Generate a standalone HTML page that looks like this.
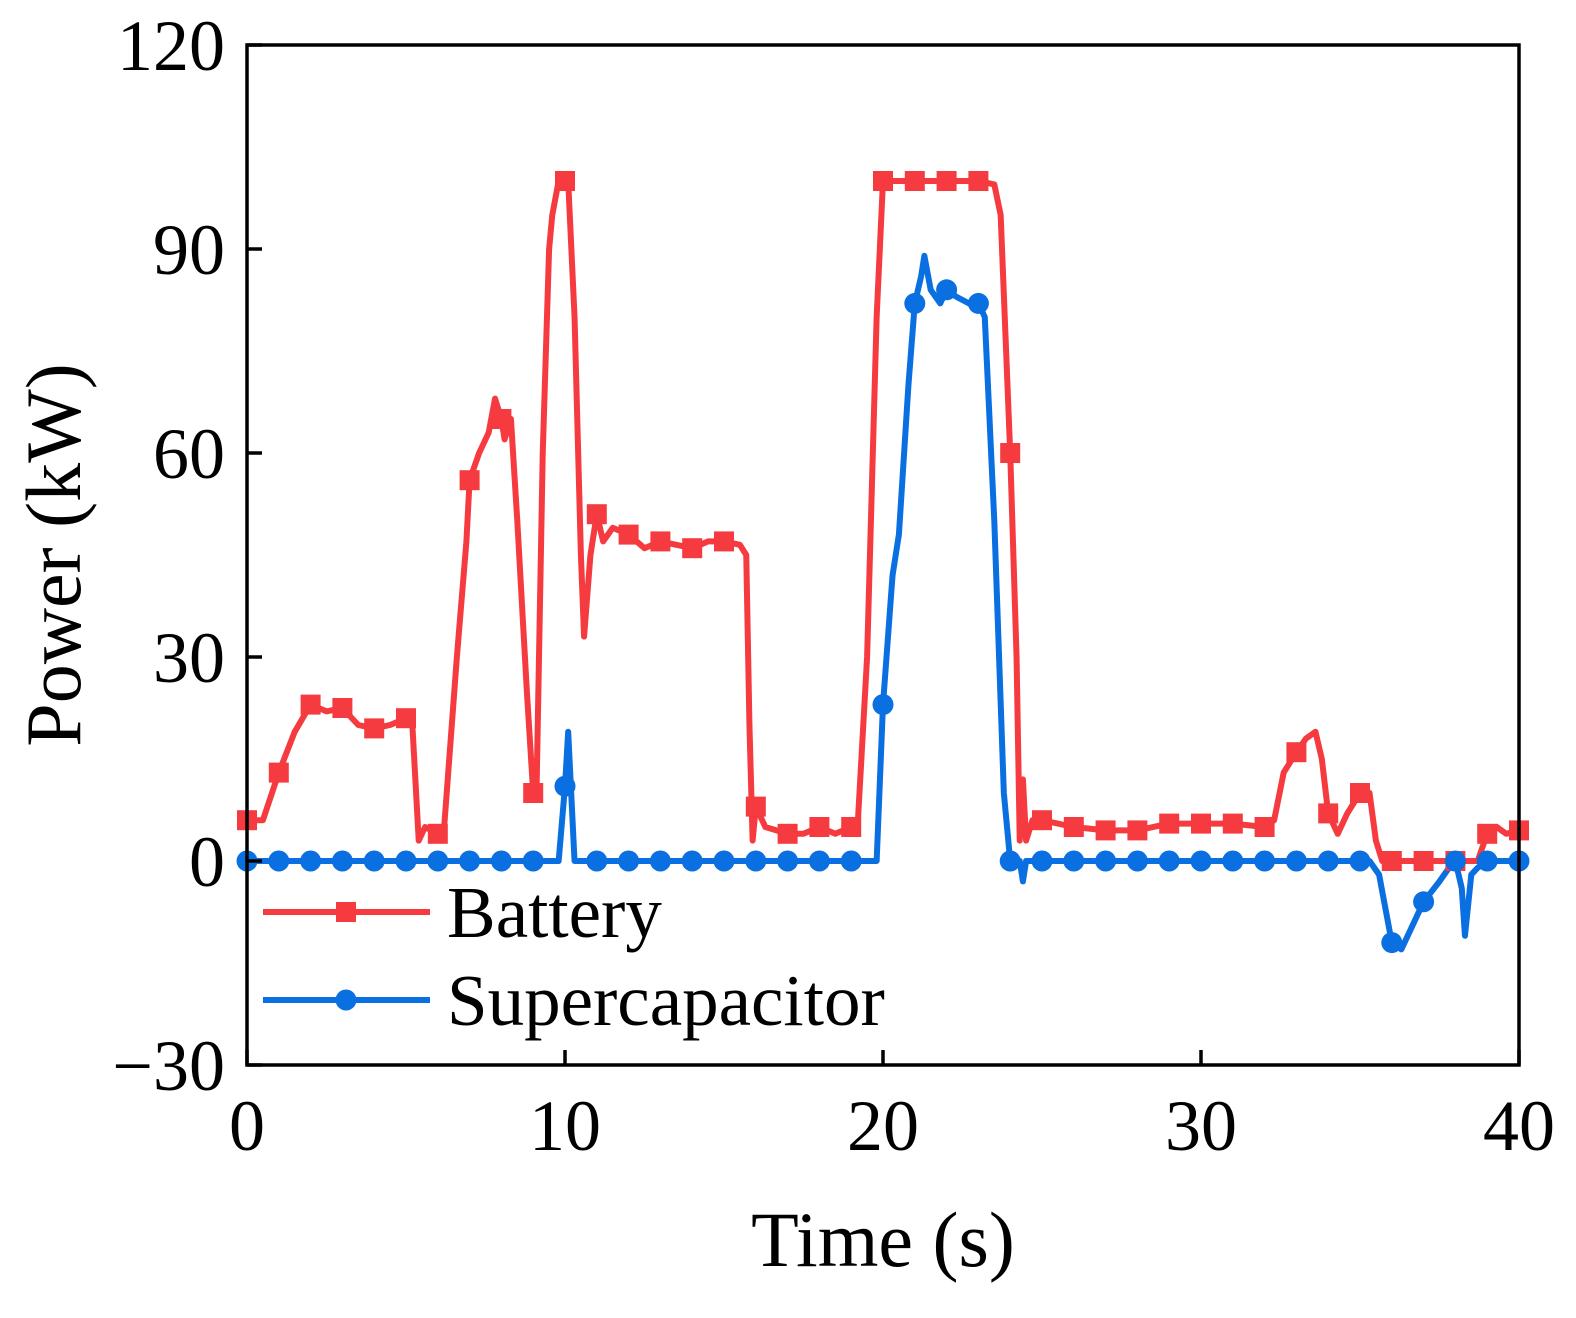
<!DOCTYPE html>
<html><head><meta charset="utf-8"><style>
html,body{margin:0;padding:0;background:#fff;}
svg{display:block;font-family:"Liberation Serif",serif;}
</style></head><body>
<svg id="chart" width="1576" height="1318" viewBox="0 0 1576 1318" xmlns="http://www.w3.org/2000/svg">
<g id="marks"></g>
<rect x="247" y="45" width="1272" height="1020" fill="none" stroke="#000" stroke-width="3.5"/>
<g id="axes"></g>
<text x="883" y="1266" font-size="78" text-anchor="middle">Time (s)</text>
<text transform="translate(80,555) rotate(-90)" font-size="78" text-anchor="middle">Power (kW)</text>
<g>
<line x1="263" y1="912" x2="430" y2="912" stroke="#f53b3f" stroke-width="6"/>
<rect x="336" y="902" width="20" height="20" fill="#f53b3f"/>
<text x="447" y="937" font-size="73">Battery</text>
<line x1="263" y1="1000" x2="430" y2="1000" stroke="#0a6fe0" stroke-width="6"/>
<circle cx="346" cy="1000" r="10.5" fill="#0a6fe0"/>
<text x="447" y="1025" font-size="73">Supercapacitor</text>
</g>
</svg>
<script>
const xTicks=[0,10,20,30,40];
const yTicks=[-30,0,30,60,90,120];
const yTickLabels=["\u221230","0","30","60","90","120"];
const batteryT=[0,0.5,1,1.5,2,2.5,3,3.5,4,4.5,5,5.2,5.4,5.6,6,6.2,6.6,6.9,7,7.3,7.6,7.8,8,8.1,8.3,8.5,8.8,9,9.1,9.3,9.5,9.6,9.8,10.1,10.3,10.5,10.6,10.8,11,11.2,11.5,12,12.5,13,13.5,14,14.5,15,15.5,15.7,15.8,15.9,16,16.3,17,17.5,18,18.5,19,19.2,19.5,19.8,20,20.5,21,22,23,23.5,23.7,24,24.2,24.3,24.4,24.5,24.7,25,26,27,28,29,30,31,32,32.3,32.6,33,33.3,33.6,33.8,34,34.3,34.6,35,35.3,35.5,35.7,36,37,38,38.7,39,39.3,39.6,40];
const batteryP=[6,6,13,19,23,22,22.5,20,19.5,20,21,20,3,5,4,5,30,47,56,60,63,68,65,62,65,50,25,10,9,60,90,95,100,100,80,45,33,45,51,47,49,48,46,47,46.5,46,47,47,46.5,45,20,3,8,5,4,4,5,4,5,5,30,80,100,100,100,100,100,99.5,95,60,30,3,12,3,6,6,5,4.5,4.5,5.5,5.5,5.5,5,6,13,16,18,19,15,7,4,7,10,10,3,0,0,0,0,0,4,5,4,4.5];
const capT=[0,9.8,10,10.1,10.3,19.8,20,20.3,20.5,20.8,21,21.2,21.3,21.5,21.8,22,22.3,22.7,23,23.2,23.5,23.8,24,24.3,24.4,24.5,35.3,35.6,36,36.3,36.5,37,37.5,37.8,38,38.2,38.3,38.5,38.7,39,40];
const capP=[0,0,11,19,0,0,23,42,48,70,82,86,89,84,82,84,83,82,82,80,50,10,0,0,-3,0,0,-2,-12,-13,-11,-6,-3,-1,0,-4,-11,-2,-1,0,0];
const markerTimes=[0,1,2,3,4,5,6,7,8,9,10,11,12,13,14,15,16,17,18,19,20,21,22,23,24,25,26,27,28,29,30,31,32,33,34,35,36,37,38,39,40];
const X=t=>247+t*1272/40, Y=p=>861-p*6.8;
const NS="http://www.w3.org/2000/svg";
function interp(T,P,t){for(let i=0;i<T.length-1;i++){if(t>=T[i]&&t<=T[i+1]){const f=(t-T[i])/((T[i+1]-T[i])||1);return P[i]+f*(P[i+1]-P[i]);}}return P[P.length-1];}
const marks=document.getElementById('marks'),axes=document.getElementById('axes');
function mk(tag,attrs,parent){const e=document.createElementNS(NS,tag);for(const k in attrs)e.setAttribute(k,attrs[k]);parent.appendChild(e);return e;}
xTicks.forEach(t=>{
 const l=mk('line',{x1:X(t),x2:X(t),y1:1065,y2:1050,stroke:'#000','stroke-width':3.5},axes);
 
 
 const tx=mk('text',{x:X(t),y:1150,'font-size':72,'text-anchor':'middle'},axes);tx.textContent=t;
 
 
});
yTicks.forEach((v,i)=>{
 const l=mk('line',{x1:247,x2:262,y1:Y(v),y2:Y(v),stroke:'#000','stroke-width':3.5},axes);
 
 
 const tx=mk('text',{x:225,y:Y(v)+25,'font-size':72,'text-anchor':'end'},axes);tx.textContent=yTickLabels[i];
 
 
});
const bl=mk('polyline',{points:batteryT.map((t,i)=>X(t)+','+Y(batteryP[i])).join(' '),fill:'none',stroke:'#f53b3f','stroke-width':6,'stroke-linejoin':'round'},marks);


const cl=mk('polyline',{points:capT.map((t,i)=>X(t)+','+Y(capP[i])).join(' '),fill:'none',stroke:'#0a6fe0','stroke-width':6,'stroke-linejoin':'round'},marks);


markerTimes.forEach(t=>{
 const p=interp(batteryT,batteryP,t);
 const r=mk('rect',{x:X(t)-10,y:Y(p)-10,width:20,height:20,fill:'#f53b3f'},marks);
 
 
});
markerTimes.forEach(t=>{
 const p=interp(capT,capP,t);
 const c=mk('circle',{cx:X(t),cy:Y(p),r:10.5,fill:'#0a6fe0'},marks);
 
 
});
</script>
</body></html>
